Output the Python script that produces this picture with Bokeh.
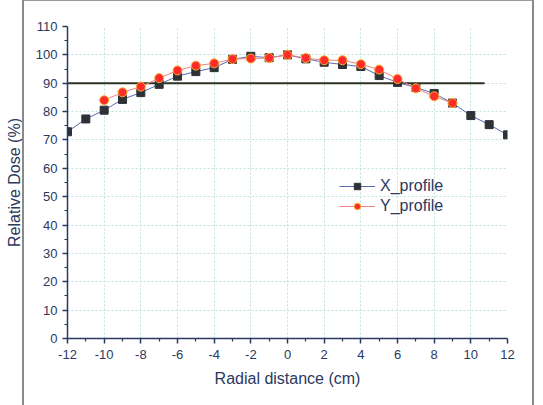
from bokeh.plotting import figure
from bokeh.models import (Range1d, FixedTicker, Legend, LegendItem, InlineStyleSheet)
from bokeh.embed import file_html
from bokeh.resources import INLINE

# Data
x_pos = [-12, -11, -10, -9, -8, -7, -6, -5, -4, -3, -2, -1, 0, 1, 2, 3, 4, 5, 6, 7, 8, 9, 10, 11, 12]
x_profile = [72.9, 77.4, 80.5, 84.3, 86.7, 89.6, 92.5, 94.1, 95.5, 98.4, 99.5, 99.0, 100.0,
             98.6, 97.4, 96.6, 95.9, 92.7, 90.3, 88.5, 86.4, 83.0, 78.6, 75.4, 71.8]
y_pos = [-10, -9, -8, -7, -6, -5, -4, -3, -2, -1, 0, 1, 2, 3, 4, 5, 6, 7, 8, 9]
y_profile = [84.0, 86.8, 88.8, 91.8, 94.5, 96.2, 97.0, 98.5, 98.7, 98.9, 100.0,
             98.9, 98.1, 98.1, 96.7, 94.8, 91.5, 88.2, 85.4, 83.0]
ref_x = [-12, 10.75]
ref_y = [90, 90]

x_ticks = [-12, -10, -8, -6, -4, -2, 0, 2, 4, 6, 8, 10, 12]
y_ticks = [0, 10, 20, 30, 40, 50, 60, 70, 80, 90, 100, 110]

FONT = "Liberation Sans"
AXC = "#2b3860"

frame_css = InlineStyleSheet(css="""
:host::after {
  content: '';
  position: absolute;
  left: 22px; top: 0px;
  width: 508px; height: 420px;
  border-left: 2px solid #8a8a8a;
  border-top: 1.5px solid #9a9a9a;
  border-right: 2px solid #8a8a8a;
  pointer-events: none;
}
""")

p = figure(width=527, height=389, output_backend="svg", toolbar_location=None,
           x_range=Range1d(-12, 12), y_range=Range1d(0, 110),
           min_border_left=67, min_border_right=20, min_border_top=26, min_border_bottom=49)
p.stylesheets = [frame_css]
p.outline_line_color = None
p.background_fill_color = "white"
p.border_fill_color = "white"

# grid
for g in (p.xgrid, p.ygrid):
    g.grid_line_color = "#bfe3da"
    g.grid_line_dash = "2 2"
    g.grid_line_width = 1
p.xgrid.ticker = FixedTicker(ticks=x_ticks)
p.ygrid.ticker = FixedTicker(ticks=y_ticks)

# axes
p.xaxis.ticker = FixedTicker(ticks=x_ticks, minor_ticks=list(range(-11, 12, 2)))
p.yaxis.ticker = FixedTicker(ticks=y_ticks, minor_ticks=list(range(5, 110, 10)))
p.xaxis.major_label_overrides = {t: str(t) for t in x_ticks}
p.yaxis.major_label_overrides = {t: str(t) for t in y_ticks}
for ax in (p.xaxis[0], p.yaxis[0]):
    ax.axis_line_color = AXC
    ax.axis_line_width = 1.5
    ax.major_tick_line_color = AXC
    ax.minor_tick_line_color = AXC
    ax.major_tick_line_width = 1.5
    ax.minor_tick_line_width = 1.2
    ax.major_tick_out = 5
    ax.major_tick_in = 0
    ax.minor_tick_out = 3
    ax.minor_tick_in = 0
    ax.major_label_text_font = FONT
    ax.major_label_text_font_size = "13px"
    ax.major_label_text_color = AXC
    ax.axis_label_text_font = FONT
    ax.axis_label_text_font_size = "16px"
    ax.axis_label_text_font_style = "normal"
    ax.axis_label_text_color = AXC
p.xaxis.axis_label = "Radial distance (cm)"
p.yaxis.axis_label = "Relative Dose (%)"
p.xaxis.axis_label_standoff = 8
p.yaxis.axis_label_standoff = 10
p.xaxis.major_label_standoff = 6

# reference line at 90%
p.line(ref_x, ref_y, line_color="#2d3320", line_width=1.8)

# series
lx = p.line(x_pos, x_profile, line_color="#5a6ab0", line_width=1)
sx = p.scatter(x_pos, x_profile, marker="square", size=8, fill_color="#2e3236",
               line_color="#2e3236")
ly = p.line(y_pos, y_profile, line_color="#f08080", line_width=1)
sy = p.scatter(y_pos, y_profile, marker="circle", size=9, fill_color="#ff2a2a",
               line_color="#f5b030", line_width=1)

legend = Legend(items=[LegendItem(label="X_profile", renderers=[lx, sx]),
                       LegendItem(label="Y_profile", renderers=[ly, sy])],
                location=(272, 123), border_line_color=None, background_fill_alpha=0,
                label_text_font=FONT, label_text_font_size="16px", label_text_color=AXC,
                glyph_width=36, glyph_height=16, spacing=2, padding=2, label_standoff=5,
                label_height=16)
p.add_layout(legend, "center")

open("out.html", "w").write(file_html(p, INLINE))
